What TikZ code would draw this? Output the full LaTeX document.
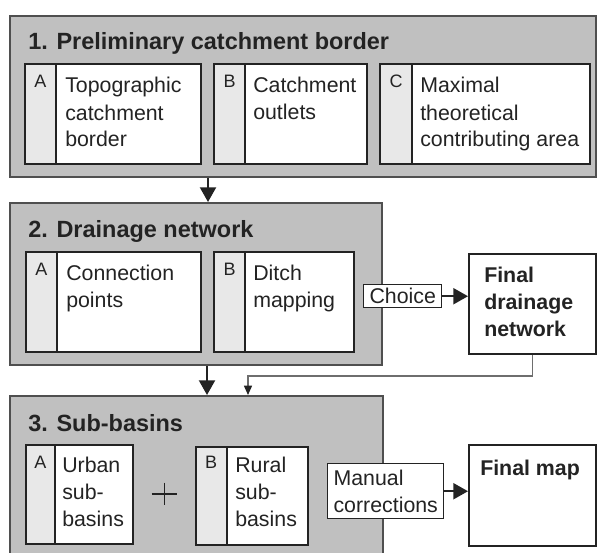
\documentclass[tikz,border=0pt]{standalone}
\usepackage{fontspec}
\setmainfont{Liberation Sans}
\usetikzlibrary{arrows.meta, positioning, fit}
\definecolor{panelGray}{RGB}{192, 192, 192}
\definecolor{tabGray}{RGB}{232, 232, 232}
\definecolor{lineDark}{RGB}{35, 35, 35}
\definecolor{feedGray}{RGB}{110, 110, 110}

\begin{document}
\begin{tikzpicture}[
        x=0.75pt, y=-0.75pt,
        panel/.style={rectangle, draw=lineDark!80, fill=panelGray, line width=1.5pt, inner sep=0pt},
        sub/.style={rectangle, draw=lineDark, fill=white, line width=1.5pt, inner sep=0pt},
        tab/.style={rectangle, draw=lineDark, fill=tabGray, line width=1.5pt, inner sep=0pt},
        title/.style={anchor=base west, inner sep=0pt, font=\fontsize{17.6}{21}\selectfont\bfseries, text=lineDark},
        letter/.style={anchor=base, inner sep=0pt, font=\fontsize{13.5}{16}\selectfont, text=lineDark},
        txt/.style={anchor=base west, inner sep=0pt, align=left, font=\fontsize{16}{20.25}\selectfont, text=lineDark},
        lab/.style={rectangle, draw=lineDark, fill=white, line width=1.1pt, inner sep=0pt, align=left, font=\fontsize{16}{20.25}\selectfont, text=lineDark},
        bigarrow/.style={-{Triangle[length=11pt, width=12pt]}, line width=1.5pt, lineDark},
        smallarrow/.style={-{Triangle[length=7pt, width=6pt, color=lineDark]}, line width=1.1pt, feedGray}
    ]
        \clip (0,0) rectangle (598,552);

        % 1. Preliminary catchment border
        \node[panel, fit={(10,16) (596,177)}] (p1) {};
        \node[title] (t1) at (28,50) {1. Preliminary catchment border};
        \node[sub, fit={(25,64) (201,164)}] (a1) {};
        \node[tab, fit={(25,64) (56,164)}] (a1tab) {};
        \node[letter] (a1l) at (40.5,88) {A};
        \node[txt] (a1x) at (65,147) {Topographic\\catchment\\border};
        \node[sub, fit={(214,64) (367,164)}] (b1) {};
        \node[tab, fit={(214,64) (245,164)}] (b1tab) {};
        \node[letter] (b1l) at (229.5,88) {B};
        \node[txt] (b1x) at (253,120) {Catchment\\outlets};
        \node[sub, fit={(380,64) (590,164)}] (c1) {};
        \node[tab, fit={(380,64) (412,164)}] (c1tab) {};
        \node[letter] (c1l) at (396,88) {C};
        \node[txt] (c1x) at (420,147) {Maximal\\theoretical\\contributing area};

        % 2. Drainage network
        \node[panel, fit={(10,203) (382,365)}] (p2) {};
        \node[title] (t2) at (28,237) {2. Drainage network};
        \node[sub, fit={(26,252) (201,352)}] (a2) {};
        \node[tab, fit={(26,252) (57,352)}] (a2tab) {};
        \node[letter] (a2l) at (41.5,275) {A};
        \node[txt] (a2x) at (66,307) {Connection\\points};
        \node[sub, fit={(214,252) (354,352)}] (b2) {};
        \node[tab, fit={(214,252) (245,352)}] (b2tab) {};
        \node[letter] (b2l) at (229.5,275) {B};
        \node[txt] (b2x) at (253,307) {Ditch\\mapping};

        \node[lab, align=center, minimum width=58.5pt, minimum height=17.25pt, anchor=north west] (choice) at (363,284) {Choice};
        \node[sub, fit={(469,254) (596,354)}] (fdn) {};
        \node[txt, font=\fontsize{16}{20.25}\selectfont\bfseries] (fdnx) at (484,336) {Final\\drainage\\network};

        % 3. Sub-basins
        \node[panel, fit={(10,396) (383,560)}] (p3) {};
        \node[title] (t3) at (28,431) {3. Sub-basins};
        \node[sub, fit={(26,445) (133,544)}] (a3) {};
        \node[tab, fit={(26,445) (55,544)}] (a3tab) {};
        \node[letter] (a3l) at (40.5,468) {A};
        \node[txt] (a3x) at (62,526) {Urban\\sub-\\basins};
        \node[inner sep=0pt, minimum width=18.75pt, minimum height=16.5pt] (plus) at (164.5,494) {};
        \draw[line width=1.4pt, lineDark] (plus.west) -- (plus.east) (plus.north) -- (plus.south);
        \node[sub, fit={(196,447) (308,545)}] (b3) {};
        \node[tab, fit={(196,447) (227,545)}] (b3tab) {};
        \node[letter] (b3l) at (211,468) {B};
        \node[txt] (b3x) at (235,526) {Rural\\sub-\\basins};

        \node[lab, minimum width=87pt, minimum height=41.25pt, anchor=north west] (manual) at (327,463) {Manual\\corrections};
        \node[sub, fit={(469,445) (596,546)}] (fmap) {};
        \node[txt, font=\fontsize{16}{20.25}\selectfont\bfseries] (fmapx) at (480,475) {Final map};

        % connectors
        \coordinate (bend) at (248,376);
        \draw[bigarrow] (p1.south -| 208,0) -- (p2.north -| 208,0);
        \draw[bigarrow] (p2.south -| 207,0) -- (p3.north -| 207,0);
        \draw[bigarrow] (choice) -- (fdn.west |- choice);
        \draw[bigarrow] (manual) -- (fmap.west |- manual);
        \draw[smallarrow] (fdn.south) |- (bend) -- (bend |- p3.north);
    \end{tikzpicture}
\end{document}
